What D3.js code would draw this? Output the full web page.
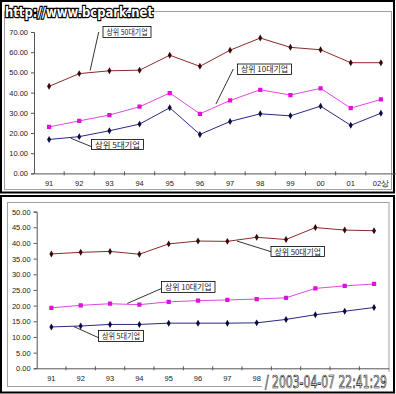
<!DOCTYPE html>
<html>
<head>
<meta charset="utf-8">
<script src="https://cdn.jsdelivr.net/npm/d3@7"></script>
<style>
  body { margin: 0; background: #fff; }
  svg { display: block; }
</style>
</head>
<body>
<div class="viewbox"></div>
<script>
  // categories (years), 02상 = first half of 2002
  const years = ["91", "92", "93", "94", "95", "96", "97", "98", "99", "00", "01", "02상"];

  // upper chart
  const upperTop50 = [43.1, 49.4, 50.8, 51.1, 58.5, 53.0, 61.0, 67.0, 62.4, 61.2, 54.8, 54.8];
  const upperTop10 = [23.0, 26.0, 28.9, 33.0, 39.8, 29.5, 36.1, 41.4, 38.8, 42.1, 32.3, 36.6];
  const upperTop5 = [16.8, 18.2, 21.1, 24.4, 32.5, 19.3, 25.7, 29.5, 28.5, 33.3, 23.8, 29.8];
  const upperTicks = [0, 10, 20, 30, 40, 50, 60, 70];

  // lower chart
  const lowerTop50 = [36.5, 37.0, 37.3, 36.4, 39.7, 40.6, 40.5, 41.8, 41.1, 44.9, 44.1, 43.9];
  const lowerTop10 = [19.3, 20.1, 20.6, 20.3, 21.2, 21.6, 21.8, 22.1, 22.5, 25.5, 26.3, 26.9];
  const lowerTop5 = [13.2, 13.5, 14.0, 14.0, 14.4, 14.4, 14.4, 14.5, 15.6, 17.1, 18.2, 19.4];
  const lowerTicks = [0, 5, 10, 15, 20, 25, 30, 35, 40, 45, 50];

  const seriesNames = ["상위 50대기업", "상위 10대기업", "상위 5대기업"];

  const W = 396, H = 394;
  const FONT = "'Liberation Sans', Arial, sans-serif";
  const KFONT = "'Noto Sans CJK KR', sans-serif";

  const svg = d3.select(".viewbox")
    .append("svg")
    .attr("width", W)
    .attr("height", H);

  svg.append("rect").attr("width", W).attr("height", H).attr("fill", "#fff");

  // line + marker style per series
  const styles = [
    { line: "#8a2a2a", mark: "#3a0808", shape: d3.symbolDiamond, size: 14 },
    { line: "#e048e0", mark: "#e010d8", shape: d3.symbolSquare, size: 18 },
    { line: "#2a2a80", mark: "#0a0a40", shape: d3.symbolDiamond, size: 14 }
  ];

  function drawPanel(cfg) {
    let g = svg.append("g");

    // panel frame (black) and chart area (gray)
    g.append("rect")
      .attr("x", cfg.frame[0]).attr("y", cfg.frame[1])
      .attr("width", cfg.frame[2]).attr("height", cfg.frame[3])
      .attr("fill", "#fff").attr("stroke", "#000").attr("stroke-width", 2);
    g.append("rect")
      .attr("x", cfg.area[0]).attr("y", cfg.area[1])
      .attr("width", cfg.area[2]).attr("height", cfg.area[3])
      .attr("fill", "none").attr("stroke", "#a0a0a0").attr("stroke-width", 1);

    let x = d3.scaleBand().domain(years).range([cfg.left, cfg.right]);
    let y = d3.scaleLinear().domain([0, cfg.max]).range([cfg.bottom, cfg.top]);
    // fractional category position, used by the callout leaders
    let xi = i => x(years[0]) + x.bandwidth() * (i + 0.5);

    // y axis
    let yAxis = g.append("g")
      .attr("transform", `translate(${cfg.left},0)`)
      .call(d3.axisLeft(y).tickValues(cfg.ticks).tickFormat(d3.format(".2f")).tickSize(3).tickPadding(3));
    yAxis.select(".domain").attr("stroke", "#555");
    yAxis.selectAll(".tick line").attr("stroke", "#555");
    yAxis.selectAll("text").attr("font-family", FONT).attr("font-size", 7.5).attr("fill", "#222");

    // x axis, ticks between categories
    let xAxis = g.append("g")
      .attr("transform", `translate(0,${cfg.bottom})`)
      .call(d3.axisBottom(x).tickSize(0).tickPadding(7));
    xAxis.select(".domain").attr("stroke", "#555");
    xAxis.selectAll("text").attr("font-family", FONT).attr("font-size", 7.5).attr("fill", "#222");
    g.selectAll(".xsep")
      .data(years.slice(1))
      .enter()
      .append("line")
      .attr("class", "xsep")
      .attr("x1", d => x(d)).attr("x2", d => x(d))
      .attr("y1", cfg.bottom - 2).attr("y2", cfg.bottom + 2)
      .attr("stroke", "#555");

    let clipId = "clip" + cfg.id;
    g.append("clipPath").attr("id", clipId)
      .append("rect")
      .attr("x", cfg.left).attr("y", cfg.top - 10)
      .attr("width", cfg.clipRight - cfg.left).attr("height", cfg.bottom - cfg.top + 20);

    let line = d3.line()
      .x((d, i) => x(years[i]) + x.bandwidth() / 2)
      .y(d => y(d));

    let plot = g.append("g").attr("clip-path", `url(#${clipId})`);
    cfg.series.forEach((vals, k) => {
      let st = styles[k];
      plot.append("path")
        .attr("d", line(vals))
        .attr("fill", "none")
        .attr("stroke", st.line)
        .attr("stroke-width", 1);
      plot.selectAll(".m" + k)
        .data(vals)
        .enter()
        .append("path")
        .attr("class", "m" + k)
        .attr("d", d3.symbol().type(st.shape).size(st.size))
        .attr("transform", (d, i) => `translate(${x(years[i]) + x.bandwidth() / 2},${y(d)})`)
        .attr("fill", st.mark);
    });

    // callouts
    cfg.notes.forEach(n => {
      g.append("line")
        .attr("x1", n.from[0]).attr("y1", n.from[1])
        .attr("x2", xi(n.at[0])).attr("y2", y(n.at[1]))
        .attr("stroke", "#000").attr("stroke-width", 0.8);
      g.append("rect")
        .attr("x", n.box[0]).attr("y", n.box[1])
        .attr("width", n.box[2]).attr("height", n.box[3])
        .attr("fill", "#fff").attr("stroke", "#000").attr("stroke-width", 0.8);
      g.append("text")
        .attr("x", n.box[0] + n.box[2] / 2)
        .attr("y", n.box[1] + n.box[3] / 2 + 3)
        .attr("text-anchor", "middle")
        .attr("font-family", KFONT)
        .attr("font-size", 7.5)
        .attr("fill", "#222")
        .attr("textLength", n.box[2] - 7)
        .attr("lengthAdjust", "spacingAndGlyphs")
        .text(seriesNames[n.s]);
    });
  }

  drawPanel({
    id: "A",
    frame: [1, 1, 393, 191.5],
    area: [4.5, 11.5, 387, 178],
    left: 34, right: 396, clipRight: 392,
    top: 32, bottom: 173.4, max: 70,
    ticks: upperTicks,
    series: [upperTop50, upperTop10, upperTop5],
    notes: [
      { s: 0, box: [103, 26.5, 48, 11], from: [98.7, 32], at: [1.36, 50.9] },
      { s: 1, box: [237.5, 64, 54, 10.5], from: [233.3, 69], at: [5.53, 34.3] },
      { s: 2, box: [91.5, 139.5, 52, 10], from: [91.5, 146.7], at: [0.72, 17.4] }
    ]
  });

  drawPanel({
    id: "B",
    frame: [1, 196, 393, 196.5],
    area: [7.5, 202.5, 381.5, 184],
    left: 36.7, right: 388.7, clipRight: 388.7,
    top: 211.6, bottom: 368.3, max: 50,
    ticks: lowerTicks,
    series: [lowerTop50, lowerTop10, lowerTop5],
    notes: [
      { s: 0, box: [271, 246.5, 53.5, 10], from: [271, 251.7], at: [6.33, 40.6] },
      { s: 1, box: [161.5, 281.5, 53.5, 11], from: [161.5, 288.5], at: [2.59, 20.7] },
      { s: 2, box: [98.5, 330.5, 45, 11], from: [98.5, 337.7], at: [0.77, 13.3] }
    ]
  });

  // watermark
  svg.append("text")
    .attr("x", 5).attr("y", 17)
    .attr("font-family", "'DejaVu Sans', sans-serif")
    .attr("font-weight", "bold")
    .attr("font-size", 14)
    .attr("fill", "#fff")
    .attr("stroke", "#000")
    .attr("stroke-width", 2.5)
    .attr("paint-order", "stroke")
    .attr("textLength", 148)
    .attr("lengthAdjust", "spacingAndGlyphs")
    .text("http://www.bcpark.net");

  // timestamp stamp (covers the last x labels, as in the picture)
  svg.append("rect")
    .attr("x", 262).attr("y", 372).attr("width", 128).attr("height", 18)
    .attr("fill", "#fff");
  svg.append("text")
    .attr("x", 265).attr("y", 388)
    .attr("font-family", "'DejaVu Sans', sans-serif")
    .attr("font-size", 17)
    .attr("fill", "#fff")
    .attr("stroke", "#000")
    .attr("stroke-width", 0.7)
    .attr("textLength", 122)
    .attr("lengthAdjust", "spacingAndGlyphs")
    .text("/ 2003-04-07 22:41:29");
</script>
</body>
</html>
